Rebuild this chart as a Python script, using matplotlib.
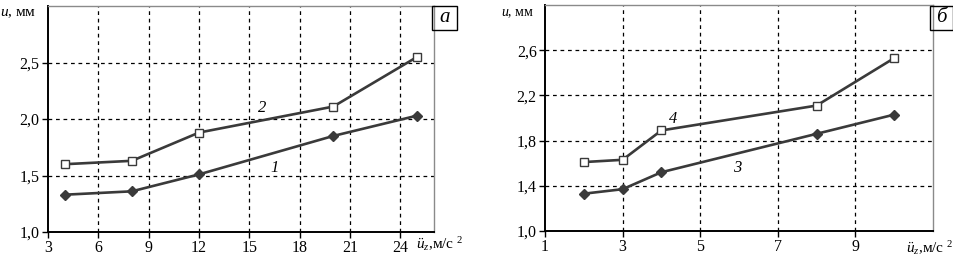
import matplotlib
matplotlib.use("Agg")
import matplotlib.pyplot as plt
from matplotlib.patches import Rectangle

plt.rcParams["font.family"] = ["Liberation Serif", "DejaVu Serif"]
plt.rcParams["mathtext.fontset"] = "custom"
plt.rcParams["mathtext.rm"] = "Liberation Serif"
plt.rcParams["mathtext.it"] = "Liberation Serif:italic"

# panel а
x_a = [4, 8, 12, 20, 25]
u1 = [1.33, 1.36, 1.51, 1.85, 2.03]
u2 = [1.60, 1.63, 1.88, 2.11, 2.55]
xt_a = [3, 6, 9, 12, 15, 18, 21, 24]
yt_a = [1.0, 1.5, 2.0, 2.5]

# panel б
x_b = [2, 3, 4, 8, 10]
u3 = [1.33, 1.37, 1.52, 1.86, 2.03]
u4 = [1.61, 1.63, 1.89, 2.11, 2.53]
xt_b = [1, 3, 5, 7, 9]
yt_b = [1.0, 1.4, 1.8, 2.2, 2.6]

LC = "#3a3a3a"

fig = plt.figure(figsize=(9.54, 2.57), dpi=100)
fig.patch.set_facecolor("white")


def panel(rect, xs, lo, hi, xt, yt, xlim, lab_lo, lab_hi, pos_lo, pos_hi):
    ax = fig.add_axes(rect)
    ax.set_xlim(*xlim)
    ax.set_ylim(1.0, 3.0)
    ax.set_xticks(xt)
    ax.set_xticklabels([str(v) for v in xt], fontsize=11.5)
    ax.set_yticks(yt)
    ax.set_yticklabels([f"{v:.1f}".replace(".", ",") for v in yt], fontsize=11.5)
    ax.tick_params(direction="out", length=4, width=1, colors="black", pad=2)
    for s in ("left", "bottom"):
        ax.spines[s].set_color("black")
        ax.spines[s].set_linewidth(1.4)
    for s in ("top", "right"):
        ax.spines[s].set_color("#8a8a8a")
        ax.spines[s].set_linewidth(1.0)
    for v in xt[1:]:
        ax.axvline(v, color="black", ls=(0, (3, 3)), lw=0.9, zorder=1)
    for v in yt[1:]:
        ax.axhline(v, color="black", ls=(0, (3, 3)), lw=0.9, zorder=1)
    ax.plot(xs, hi, "-s", color=LC, lw=1.9, ms=6, mfc="white", mec=LC, mew=1.0, zorder=3)
    ax.plot(xs, lo, "-D", color=LC, lw=1.9, ms=5, mfc=LC, mec=LC, zorder=3)
    ax.text(*pos_hi, lab_hi, fontsize=12, style="italic", ha="center", va="center")
    ax.text(*pos_lo, lab_lo, fontsize=12, style="italic", ha="center", va="center")
    return ax


panel([48 / 954, 25 / 257, 386 / 954, 226 / 257], x_a, u1, u2, xt_a, yt_a,
      (3, 26), "1", "2", (16.5, 1.57), (15.75, 2.10))
panel([545 / 954, 26 / 257, 388 / 954, 226 / 257], x_b, u3, u4, xt_b, yt_b,
      (1, 11), "3", "4", (5.95, 1.56), (4.3, 1.99))

# panel letters in boxes
for x0, w, letter in ((432 / 954, 25 / 954, "а"), (930 / 954, 23 / 954, "б")):
    y0, h = 227 / 257, 24 / 257
    fig.patches.append(Rectangle((x0, y0), w, h, transform=fig.transFigure,
                                 fill=False, edgecolor="black", lw=1.0))
    fig.text(x0 + w / 2, y0 + h / 2, letter, fontsize=15, style="italic",
             ha="center", va="center")

# axis labels
fig.text(0.0, 1 - 14 / 257, r"$u$, мм", fontsize=11, ha="left", va="center")
fig.text(534 / 954, 1 - 13 / 257, r"$u$, мм", fontsize=10, ha="right", va="center")
fig.text(416 / 954, 1 - 244 / 257, r"$\ddot{u}_z$,м/с $^{2}$", fontsize=11,
         ha="left", va="center")
fig.text(906 / 954, 1 - 248 / 257, r"$\ddot{u}_z$,м/с $^{2}$", fontsize=11,
         ha="left", va="center")

fig.savefig("out.png", dpi=100, facecolor="white")
